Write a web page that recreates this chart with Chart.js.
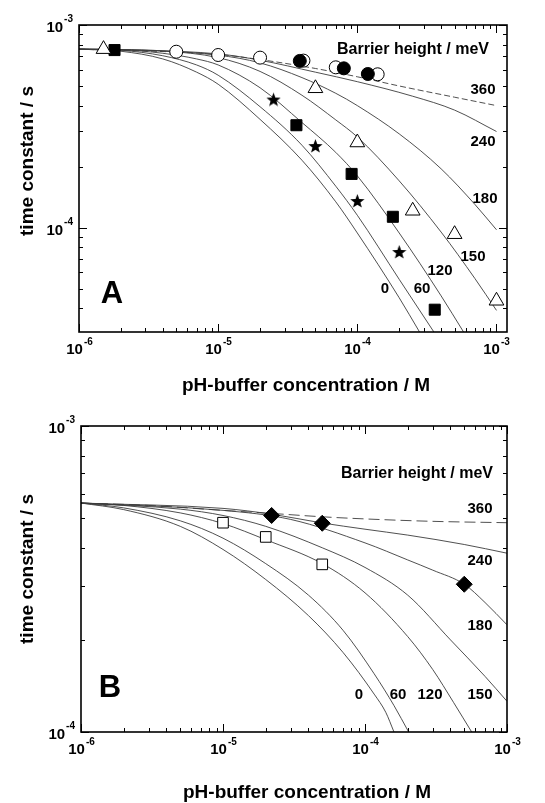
<!DOCTYPE html>
<html>
<head>
<meta charset="utf-8">
<script src="https://cdn.jsdelivr.net/npm/chart.js@4/dist/chart.umd.min.js"></script>
<style>
  html, body { margin: 0; padding: 0; background: #fff; }
  canvas { display: block; }
</style>
</head>
<body>
<canvas id="panelA" width="545" height="400"></canvas>
<canvas id="panelB" width="545" height="403"></canvas>
<script>
// ---- panel A: model curves, [concentration M, time constant s] ----
const curveA_0   = [[1e-6,7.6e-4],[2e-6,7.42e-4],[4e-6,6.8e-4],[7e-6,5.85e-4],[1e-5,5.1e-4],[2e-5,3.42e-4],[4e-5,2.15e-4],[7e-5,1.34e-4],[1e-4,9.4e-5],[2e-4,4.5e-5],[2.8e-4,3.05e-5]];
const curveA_60  = [[1e-6,7.6e-4],[2e-6,7.5e-4],[4e-6,7.05e-4],[7e-6,6.35e-4],[1e-5,5.65e-4],[2e-5,3.95e-4],[4e-5,2.55e-4],[7e-5,1.6e-4],[1e-4,1.15e-4],[2e-4,5.55e-5],[3.55e-4,3.05e-5]];
const curveA_120 = [[1e-6,7.6e-4],[2e-6,7.55e-4],[4e-6,7.25e-4],[7e-6,6.8e-4],[1e-5,6.35e-4],[2e-5,4.9e-4],[4e-5,3.3e-4],[7e-5,2.35e-4],[1e-4,1.8e-4],[2e-4,9.4e-5],[4e-4,4.6e-5],[5.8e-4,3.05e-5]];
const curveA_150 = [[1e-6,7.6e-4],[2e-6,7.57e-4],[4e-6,7.45e-4],[1e-5,6.9e-4],[2e-5,5.9e-4],[4e-5,4.5e-4],[7e-5,3.4e-4],[1e-4,2.8e-4],[2e-4,1.7e-4],[4e-4,9.5e-5],[7e-4,5.6e-5],[1e-3,3.9e-5]];
const curveA_180 = [[1e-6,7.6e-4],[3e-6,7.5e-4],[1e-5,7.1e-4],[2e-5,6.5e-4],[4e-5,5.5e-4],[7e-5,4.6e-4],[1e-4,4.0e-4],[2e-4,2.9e-4],[4e-4,1.95e-4],[7e-4,1.3e-4],[1e-3,9.75e-5]];
const curveA_240 = [[1e-6,7.6e-4],[1e-5,7.2e-4],[2e-5,6.7e-4],[5e-5,5.85e-4],[1e-4,5.25e-4],[2.5e-4,4.45e-4],[5e-4,3.8e-4],[1e-3,2.98e-4]];
const curveA_360 = [[1e-6,7.6e-4],[1e-5,7.15e-4],[2e-5,6.75e-4],[5e-5,6.1e-4],[1e-4,5.55e-4],[2e-4,5.0e-4],[5e-4,4.4e-4],[1e-3,4.0e-4]];

// ---- panel A: measured points ----
const triA_x  = [1.5e-6, 5e-5, 1e-4, 2.5e-4, 5e-4, 1e-3];
const triA_y  = [7.6e-4, 4.87e-4, 2.63e-4, 1.21e-4, 9.27e-5, 4.35e-5];
const sqA_x   = [1.8e-6, 3.65e-5, 9.1e-5, 1.8e-4, 3.6e-4];
const sqA_y   = [7.52e-4, 3.2e-4, 1.84e-4, 1.13e-4, 3.93e-5];
const starA_x = [2.5e-5, 5e-5, 1e-4, 2e-4];
const starA_y = [4.31e-4, 2.54e-4, 1.36e-4, 7.62e-5];
const ocA_x   = [5e-6, 1e-5, 2e-5, 4.1e-5, 7e-5, 1.4e-4];
const ocA_y   = [7.38e-4, 7.11e-4, 6.9e-4, 6.67e-4, 6.18e-4, 5.71e-4];
const fcA_x   = [3.86e-5, 8e-5, 1.19e-4];
const fcA_y   = [6.65e-4, 6.11e-4, 5.73e-4];

// ---- panel B: model curves ----
const curveB_0   = [[1e-6,5.6e-4],[2e-6,5.33e-4],[5e-6,4.7e-4],[1e-5,3.95e-4],[2e-5,3.15e-4],[4e-5,2.4e-4],[7e-5,1.82e-4],[1.16e-4,1.33e-4],[1.4e-4,1.16e-4],[1.6e-4,1.0e-4]];
const curveB_60  = [[1e-6,5.6e-4],[2e-6,5.4e-4],[5e-6,4.9e-4],[1e-5,4.3e-4],[2e-5,3.55e-4],[4e-5,2.8e-4],[7e-5,2.15e-4],[1.16e-4,1.55e-4],[1.6e-4,1.22e-4],[2.03e-4,1.0e-4]];
const curveB_120 = [[1e-6,5.6e-4],[2e-6,5.5e-4],[5e-6,5.2e-4],[1e-5,4.8e-4],[2e-5,4.25e-4],[5e-5,3.55e-4],[1e-4,2.85e-4],[2e-4,2.05e-4],[3e-4,1.6e-4],[4.2e-4,1.25e-4],[5.64e-4,1.0e-4]];
const curveB_150 = [[1e-6,5.6e-4],[5e-6,5.35e-4],[1e-5,5.1e-4],[2e-5,4.7e-4],[5e-5,4.0e-4],[1e-4,3.45e-4],[2e-4,2.8e-4],[4e-4,2.0e-4],[7e-4,1.52e-4],[1e-3,1.26e-4]];
const curveB_180 = [[1e-6,5.6e-4],[1e-5,5.3e-4],[3e-5,4.95e-4],[1e-4,4.15e-4],[2e-4,3.65e-4],[3e-4,3.38e-4],[5e-4,3.04e-4],[7e-4,2.65e-4],[1e-3,2.24e-4]];
const curveB_240 = [[1e-6,5.6e-4],[1e-5,5.38e-4],[2.2e-5,5.15e-4],[5e-5,4.82e-4],[1e-4,4.6e-4],[2e-4,4.4e-4],[5e-4,4.1e-4],[1e-3,3.84e-4]];
const curveB_360 = [[1e-6,5.6e-4],[3e-6,5.5e-4],[1e-5,5.3e-4],[2.2e-5,5.18e-4],[5e-5,5.05e-4],[1e-4,4.97e-4],[3e-4,4.88e-4],[1e-3,4.83e-4]];

// ---- panel B: measured points ----
const sqB_x  = [1e-5, 2e-5, 5e-5];
const sqB_y  = [4.83e-4, 4.34e-4, 3.53e-4];
const diaB_x = [2.2e-5, 5e-5, 5e-4];
const diaB_y = [5.1e-4, 4.81e-4, 3.04e-4];

const FONT = '"Liberation Sans", Arial, sans-serif';

function toPts(xs, ys) { return xs.map((x, i) => ({ x: x, y: ys[i] })); }

function curve(pairs, dash) {
    return {
        data: pairs.map(p => ({ x: p[0], y: p[1] })),
        showLine: true,
        borderColor: '#3c3c3c',
        borderWidth: 0.9,
        borderDash: dash || [],
        pointRadius: 0,
        cubicInterpolationMode: 'monotone',
        fill: false,
        order: 10
    };
}

function marks(xs, ys, style, radius, filled, order) {
    return {
        data: toPts(xs, ys),
        showLine: false,
        pointStyle: style,
        pointRadius: radius,
        pointBackgroundColor: filled ? '#000' : '#fff',
        pointBorderColor: '#000',
        pointBorderWidth: 1,
        order: order
    };
}

//filled five point star for the pointStyle
function starImage(size) {
    const c = document.createElement('canvas');
    c.width = size; c.height = size;
    const g = c.getContext('2d');
    const R = size / 2, r = R * 0.42;
    g.beginPath();
    for (let i = 0; i < 10; i++) {
        const a = -Math.PI / 2 + i * Math.PI / 5;
        const rr = i % 2 ? r : R;
        g.lineTo(R + rr * Math.cos(a), R + 1 + rr * Math.sin(a));
    }
    g.closePath();
    g.fillStyle = '#000';
    g.fill();
    return c;
}

function logTicks(min, max) {
    const out = [];
    for (let e = Math.floor(Math.log10(min)); e <= Math.ceil(Math.log10(max)); e++) {
        for (let m = 1; m < 10; m++) {
            const v = m * Math.pow(10, e);
            if (v >= min * 0.999 && v <= max * 1.001) out.push({ v: v, major: m === 1, e: e });
        }
    }
    return out;
}

// "10" with a raised exponent
function powerLabel(ctx, e, px, py, align) {
    ctx.font = 'bold 15px ' + FONT;
    const wb = ctx.measureText('10').width;
    ctx.font = 'bold 10px ' + FONT;
    const exp = String(e);
    const we = ctx.measureText(exp).width;
    const total = wb + we + 1;
    let x0 = align === 'right' ? px - total : px - total / 2;
    ctx.textBaseline = 'middle';
    ctx.textAlign = 'left';
    ctx.font = 'bold 15px ' + FONT;
    ctx.fillText('10', x0, py);
    ctx.font = 'bold 10px ' + FONT;
    ctx.fillText(exp, x0 + wb + 1, py - 8);
}

const decorPlugin = {
    id: 'decor',
    afterDatasetsDraw(chart, args, opts) {
        const ctx = chart.ctx;
        const a = chart.chartArea;
        const xs = chart.scales.x, ys = chart.scales.y;
        ctx.save();
        ctx.strokeStyle = '#000';
        ctx.fillStyle = '#000';
        // inward tick marks on all four sides
        ctx.lineWidth = 1;
        logTicks(xs.min, xs.max).forEach(t => {
            const p = Math.round(xs.getPixelForValue(t.v)) + 0.5;
            const len = t.major ? 8 : 4;
            ctx.beginPath();
            ctx.moveTo(p, a.bottom); ctx.lineTo(p, a.bottom - len);
            ctx.moveTo(p, a.top); ctx.lineTo(p, a.top + len);
            ctx.stroke();
            if (t.major) powerLabel(ctx, t.e, p, a.bottom + 18, 'center');
        });
        logTicks(ys.min, ys.max).forEach(t => {
            const p = Math.round(ys.getPixelForValue(t.v)) + 0.5;
            const len = t.major ? 8 : 4;
            ctx.beginPath();
            ctx.moveTo(a.left, p); ctx.lineTo(a.left + len, p);
            ctx.moveTo(a.right, p); ctx.lineTo(a.right - len, p);
            ctx.stroke();
            if (t.major) powerLabel(ctx, t.e, a.left - 6, p + 2, 'right');
        });
        // frame
        ctx.lineWidth = 1.6;
        ctx.strokeRect(a.left, a.top, a.right - a.left, a.bottom - a.top);

        // axis titles
        ctx.textAlign = 'center';
        ctx.textBaseline = 'middle';
        ctx.font = 'bold 19px ' + FONT;
        ctx.fillText('pH-buffer concentration / M', opts.xTitle[0], opts.xTitle[1]);
        ctx.save();
        ctx.translate(opts.yTitle[0], opts.yTitle[1]);
        ctx.rotate(-Math.PI / 2);
        ctx.fillText('time constant / s', 0, 0);
        ctx.restore();

        // panel letter and curve labels
        ctx.font = 'bold 31px ' + FONT;
        ctx.fillText(opts.letter[0], opts.letter[1], opts.letter[2]);
        ctx.font = 'bold 16px ' + FONT;
        ctx.fillText('Barrier height / meV', opts.legend[0], opts.legend[1]);
        ctx.font = 'bold 15px ' + FONT;
        opts.notes.forEach(n => ctx.fillText(n[0], n[1], n[2]));
        ctx.restore();
    }
};

function makePanel(id, area, xmin, xmax, ymin, ymax, datasets, decor) {
    const canvas = document.getElementById(id);
    const H = canvas.height;
    return new Chart(canvas, {
        type: 'scatter',
        data: { datasets: datasets },
        options: {
            responsive: false,
            animation: false,
            layout: { padding: { left: 0, top: area.top, right: canvas.width - area.right, bottom: 0 } },
            scales: {
                x: {
                    type: 'logarithmic', min: xmin, max: xmax,
                    ticks: { display: false }, grid: { display: false }, border: { display: false },
                    afterFit: s => { s.height = H - area.bottom; }
                },
                y: {
                    type: 'logarithmic', min: ymin, max: ymax,
                    ticks: { display: false }, grid: { display: false }, border: { display: false },
                    afterFit: s => { s.width = area.left; }
                }
            },
            plugins: { legend: { display: false }, tooltip: { enabled: false }, decor: decor }
        },
        plugins: [decorPlugin]
    });
}

const star = starImage(15);

makePanel('panelA', { left: 79, top: 25, right: 507, bottom: 332 }, 1e-6, 1.19e-3, 3.05e-5, 1e-3, [
    curve(curveA_0), curve(curveA_60), curve(curveA_120), curve(curveA_150),
    curve(curveA_180), curve(curveA_240), curve(curveA_360, [6, 3]),
    marks(triA_x, triA_y, 'triangle', 8.5, false, 3),
    marks(sqA_x, sqA_y, 'rect', 7.8, true, 3),
    marks(starA_x, starA_y, star, 7, true, 3),
    marks(ocA_x, ocA_y, 'circle', 6.5, false, 2),
    marks(fcA_x, fcA_y, 'circle', 6.5, true, 1)
], {
    xTitle: [306, 386], yTitle: [28, 161],
    letter: ['A', 112, 294], legend: [413, 50],
    notes: [['360', 483, 90], ['240', 483, 142], ['180', 485, 199], ['150', 473, 257],
            ['120', 440, 271], ['60', 422, 289], ['0', 385, 289]]
});

makePanel('panelB', { left: 81, top: 26, right: 507, bottom: 332 }, 1e-6, 1e-3, 1e-4, 1e-3, [
    curve(curveB_0), curve(curveB_60), curve(curveB_120), curve(curveB_150),
    curve(curveB_180), curve(curveB_240), curve(curveB_360, [11, 5]),
    marks(sqB_x, sqB_y, 'rect', 7.5, false, 2),
    marks(diaB_x, diaB_y, 'rectRot', 8, true, 1)
], {
    xTitle: [307, 393], yTitle: [28, 169],
    letter: ['B', 110, 288], legend: [417, 74],
    notes: [['360', 480, 109], ['240', 480, 161], ['180', 480, 226], ['150', 480, 295],
            ['120', 430, 295], ['60', 398, 295], ['0', 359, 295]]
});
</script>
</body>
</html>
